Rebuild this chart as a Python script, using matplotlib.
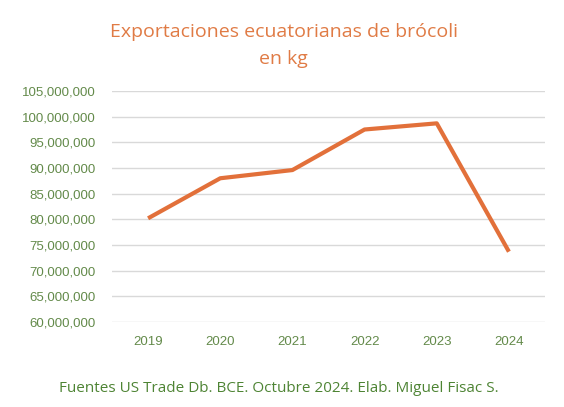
import matplotlib.pyplot as plt
from matplotlib.ticker import FuncFormatter

years = ["2019", "2020", "2021", "2022", "2023", "2024"]
kg = [80200000, 88000000, 89600000, 97500000, 98700000, 73700000]

fig = plt.figure(figsize=(5.64, 4.07), dpi=100)
ax = fig.add_axes([112 / 564, 1 - 322 / 407, 433 / 564, 231 / 407])

ax.plot(range(len(years)), kg, color="#E2703A", linewidth=3, solid_capstyle="butt")

ax.set_xlim(-0.5, len(years) - 0.5)
ax.set_ylim(60000000, 105000000)
ax.set_yticks(range(60000000, 105000001, 5000000))
ax.yaxis.set_major_formatter(FuncFormatter(lambda v, p: f"{int(v):,}"))
ax.set_xticks(range(len(years)))
ax.set_xticklabels(years)

ax.grid(axis="y", color="#D9D9D9", linewidth=1)
ax.set_axisbelow(True)
for s in ax.spines.values():
    s.set_visible(False)
ax.tick_params(length=0, colors="#638A4A", labelsize=9.5)
ax.tick_params(axis="y", pad=12)
ax.tick_params(axis="x", pad=10)
for lbl in ax.get_xticklabels() + ax.get_yticklabels():
    lbl.set_family("Liberation Sans")

fig.text(0.503, 1 - 32 / 407, "Exportaciones ecuatorianas de brócoli", ha="center", va="center",
         color="#E07B45", fontsize=14, family="Open Sans")
fig.text(0.503, 1 - 59 / 407, "en kg", ha="center", va="center",
         color="#E07B45", fontsize=14, family="Open Sans")
fig.text(0.495, 1 - 388 / 407, "Fuentes US Trade Db. BCE. Octubre 2024. Elab. Miguel Fisac S.",
         ha="center", va="center", color="#4E8434", fontsize=11, family="Open Sans")

fig.savefig("out.png", dpi=100)
